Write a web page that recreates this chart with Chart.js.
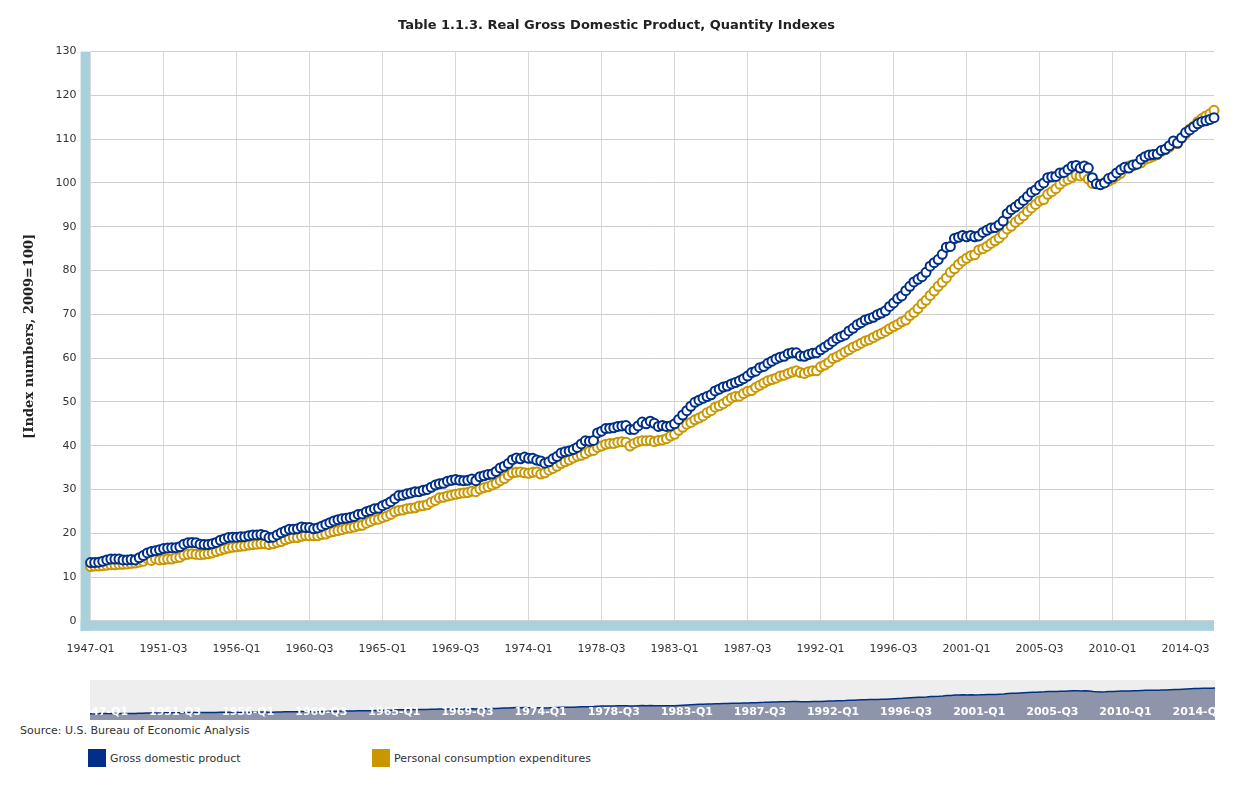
<!DOCTYPE html>
<html>
<head>
<meta charset="utf-8">
<script src="https://cdn.jsdelivr.net/npm/chart.js@4"></script>
<style>
  body { margin: 0; background: #fff; font-family: "DejaVu Sans", sans-serif; }
  #wrap { position: relative; width: 1236px; height: 797px; }
  #main { position: absolute; left: 0; top: 0; }
  #nav { position: absolute; left: 90px; top: 680px; }
  #source { position: absolute; left: 20px; top: 724px; font-size: 11px; color: #333; }
  .leg { position: absolute; top: 749px; font-size: 11px; color: #333; display: flex; align-items: center; }
  .leg span { display: inline-block; width: 18px; height: 18px; margin-right: 4px; }
</style>
</head>
<body>
<div id="wrap">
  <canvas id="main" width="1236" height="690"></canvas>
  <canvas id="nav" width="1125" height="40"></canvas>
  <div id="source">Source: U.S. Bureau of Economic Analysis</div>
  <div class="leg" style="left:88px"><span style="background:#002f87"></span>Gross domestic product</div>
  <div class="leg" style="left:372px"><span style="background:#c99700"></span>Personal consumption expenditures</div>
</div>
<script>
const startYear = 1947;
const gdp = [
  13.3,13.3,13.4,13.6, 13.9,14.1,14.1,14.1, 13.9,13.9,14.0,13.9, 14.4,14.9,15.5,15.8,
  16.0,16.2,16.5,16.6, 16.7,16.7,16.9,17.5, 17.8,17.9,17.8,17.5, 17.4,17.4,17.6,17.9,
  18.4,18.7,19.0,19.1, 19.1,19.2,19.2,19.4, 19.6,19.6,19.7,19.5, 19.0,19.1,19.6,20.1,
  20.5,20.9,20.9,21.0, 21.4,21.3,21.3,21.0, 21.2,21.6,22.0,22.4, 22.8,23.1,23.3,23.4,
  23.6,23.8,24.3,24.4, 24.9,25.2,25.6,25.7, 26.3,26.7,27.2,27.9, 28.6,28.7,29.0,29.2,
  29.5,29.5,29.8,30.0, 30.5,31.0,31.3,31.4, 31.9,32.1,32.3,32.1, 32.0,32.1,32.4,32.0,
  32.9,33.1,33.4,33.5, 34.1,34.9,35.3,35.9, 36.8,37.2,37.0,37.4, 37.1,37.1,36.7,36.5,
  36.0,36.3,37.0,37.5, 38.3,38.6,38.8,39.1, 39.6,40.4,41.1,41.0, 41.2,42.9,43.3,43.9,
  44.0,44.1,44.4,44.5, 44.6,43.7,43.7,44.5, 45.4,45.0,45.6,45.1, 44.4,44.6,44.4,44.5,
  45.0,46.0,47.0,48.0, 49.0,49.9,50.4,50.8, 51.2,51.6,52.5,52.9, 53.4,53.6,54.1,54.4,
  54.8,55.3,55.9,56.7, 57.0,57.8,58.1,58.8, 59.3,59.8,60.2,60.4, 61.0,61.2,61.2,60.5,
  60.4,60.8,61.1,61.2, 61.9,62.5,63.1,63.8, 64.5,64.9,65.3,66.2, 66.8,67.6,68.1,68.7,
  69.0,69.3,69.9,70.3, 70.8,71.8,72.6,73.6, 74.2,75.4,76.4,77.4, 78.0,78.6,79.6,81.0,
  81.8,82.5,83.7,85.3, 85.5,87.3,87.6,88.0, 87.7,88.0,87.7,87.9, 88.7,89.2,89.7,89.8,
  90.4,91.3,93.0,93.9, 94.5,95.2,96.0,96.9, 97.9,98.4,99.4,100.0, 101.2,101.4,101.5,102.3,
  102.4,103.1,103.8,104.0, 103.4,103.9,103.4,101.2, 99.8,99.6,100.0,101.0, 101.4,102.3,103.0,103.6,
  103.4,104.1,104.3,105.4, 106.0,106.4,106.5,106.6, 107.4,107.7,108.5,109.6, 109.1,110.3,111.5,112.1,
  112.8,113.5,114.0,114.2, 114.5,114.9
];
const pce = [
  12.4,12.5,12.5,12.6, 12.7,12.8,12.8,12.9, 12.9,13.0,13.1,13.2, 13.4,13.6,14.2,13.8,
  14.2,13.9,14.0,14.1, 14.1,14.4,14.5,15.0, 15.2,15.3,15.2,15.1, 15.2,15.3,15.5,15.8,
  16.1,16.4,16.6,16.8, 16.9,17.0,17.1,17.3, 17.4,17.5,17.6,17.6, 17.4,17.6,17.9,18.1,
  18.5,18.8,19.0,19.0, 19.3,19.5,19.4,19.4, 19.4,19.7,19.8,20.2, 20.4,20.6,20.8,21.1,
  21.2,21.4,21.7,21.8, 22.3,22.7,23.1,23.2, 23.6,23.9,24.3,24.9, 25.2,25.3,25.6,25.7,
  25.8,26.2,26.3,26.5, 27.1,27.5,28.1,28.2, 28.5,28.7,28.9,29.1, 29.2,29.3,29.6,29.5,
  30.1,30.4,30.6,31.0, 31.4,32.0,32.5,33.2, 33.8,33.9,34.0,33.8, 33.7,33.9,34.0,33.5,
  33.8,34.4,34.8,35.3, 35.9,36.3,36.7,37.2, 37.6,37.8,38.2,38.7, 38.9,39.6,39.9,40.3,
  40.5,40.5,40.8,40.9, 40.8,39.9,40.5,40.9, 41.1,41.1,41.2,40.9, 41.2,41.3,41.6,42.2,
  42.6,43.5,44.2,44.9, 45.3,45.9,46.3,46.8, 47.5,48.0,48.8,49.1, 49.6,50.2,50.9,51.2,
  51.3,51.9,52.4,52.6, 53.3,53.8,54.3,54.8, 55.1,55.4,55.9,56.1, 56.5,56.8,57.1,56.7,
  56.5,56.9,57.1,57.1, 58.0,58.4,59.0,59.9, 60.3,60.8,61.4,61.9, 62.5,62.9,63.4,63.9,
  64.2,64.7,65.2,65.6, 66.1,66.7,67.2,67.7, 68.3,68.7,69.7,70.4, 71.3,72.4,73.2,74.3,
  75.3,76.4,77.3,78.3, 79.6,80.4,81.4,82.2, 82.8,83.4,83.6,84.7, 85.0,85.5,86.2,86.8,
  87.4,88.3,89.5,90.1, 91.0,91.7,92.5,93.5, 94.3,95.1,95.9,96.2, 97.4,98.0,98.7,99.7,
  100.4,100.8,101.3,101.8, 101.6,101.8,100.9,99.9, 99.9,99.6,100.1,100.4, 100.9,101.6,102.2,103.3,
  103.9,103.9,104.3,104.6, 105.4,105.7,106.1,106.5, 107.2,107.6,108.2,109.1, 109.0,110.2,111.2,112.3,
  113.0,114.0,114.7,115.3, 115.8,116.6
];
const quarters = gdp.map((v, i) => (startYear + Math.floor(i / 4)) + "-Q" + (i % 4 + 1));
const tickEvery = 18;

const bands = {
  id: "bands",
  beforeDraw(chart) {
    const { ctx, chartArea: a } = chart;
    ctx.save();
    ctx.fillStyle = "#a9d1dc";
    ctx.fillRect(a.left - 10, a.top, 10, a.bottom - a.top + 10);
    ctx.fillRect(a.left - 10, a.bottom, a.right - a.left + 10, 10);
    ctx.restore();
  }
};

new Chart(document.getElementById("main"), {
  type: "line",
  data: {
    labels: quarters,
    datasets: [
      { label: "Gross domestic product", data: gdp, showLine: false, pointRadius: 4.5, borderWidth: 2,
        borderColor: "#002f87", backgroundColor: "#fff", pointBackgroundColor: "#fff" },
      { label: "Personal consumption expenditures", data: pce, showLine: false, pointRadius: 4.5, borderWidth: 2,
        borderColor: "#c99700", backgroundColor: "#fff", pointBackgroundColor: "#fff" }
    ]
  },
  options: {
    responsive: false,
    animation: false,
    layout: { padding: { left: 18, right: 21, top: 4, bottom: 12 } },
    plugins: {
      legend: { display: false },
      tooltip: { enabled: false },
      title: { display: true, text: "Table 1.1.3. Real Gross Domestic Product, Quantity Indexes",
        font: { family: "DejaVu Sans", size: 13, weight: "bold" }, color: "#222", padding: { top: 14, bottom: 18 } }
    },
    scales: {
      x: {
        offset: false,
        grid: { color: c => c.index % tickEvery === 0 ? "#d8d8d8" : "transparent", drawTicks: false },
        border: { display: false },
        ticks: { autoSkip: false, maxRotation: 0, padding: 22, color: "#333", font: { family: "DejaVu Sans", size: 11 },
          callback: (v, i) => i % tickEvery === 0 ? quarters[i] : "" }
      },
      y: {
        min: 0, max: 130,
        ticks: { stepSize: 10, color: "#333", padding: 14, font: { family: "DejaVu Sans", size: 11 } },
        grid: { color: "#cfcfcf", drawTicks: false },
        border: { display: false },
        title: { display: true, text: "[Index numbers, 2009=100]", color: "#222",
          font: { family: "DejaVu Serif", size: 13, weight: "bold" } }
      }
    }
  },
  plugins: [bands]
});

const navLabels = {
  id: "navLabels",
  beforeDraw(chart) {
    const { ctx } = chart;
    ctx.save();
    ctx.fillStyle = "#eeeeee";
    ctx.fillRect(0, 0, chart.width, chart.height);
    ctx.restore();
  },
  afterDraw(chart) {
    const { ctx } = chart;
    const x = chart.scales.x;
    ctx.save();
    ctx.fillStyle = "#fff";
    ctx.font = "bold 11px 'DejaVu Sans'";
    ctx.textAlign = "center";
    for (let i = 0; i < quarters.length; i += tickEvery) {
      ctx.fillText(quarters[i], x.getPixelForValue(i) + 12, 35);
    }
    ctx.restore();
  }
};

new Chart(document.getElementById("nav"), {
  type: "line",
  data: {
    labels: quarters,
    datasets: [{ data: gdp, pointRadius: 0, borderWidth: 1.5, borderColor: "#002f87",
      backgroundColor: "#8e95aa", fill: "start" }]
  },
  options: {
    responsive: false,
    animation: false,
    layout: { padding: 0 },
    plugins: { legend: { display: false }, tooltip: { enabled: false } },
    scales: {
      x: { display: false, offset: false },
      y: { display: false, min: -12, max: 147 }
    }
  },
  plugins: [navLabels]
});
</script>
</body>
</html>
